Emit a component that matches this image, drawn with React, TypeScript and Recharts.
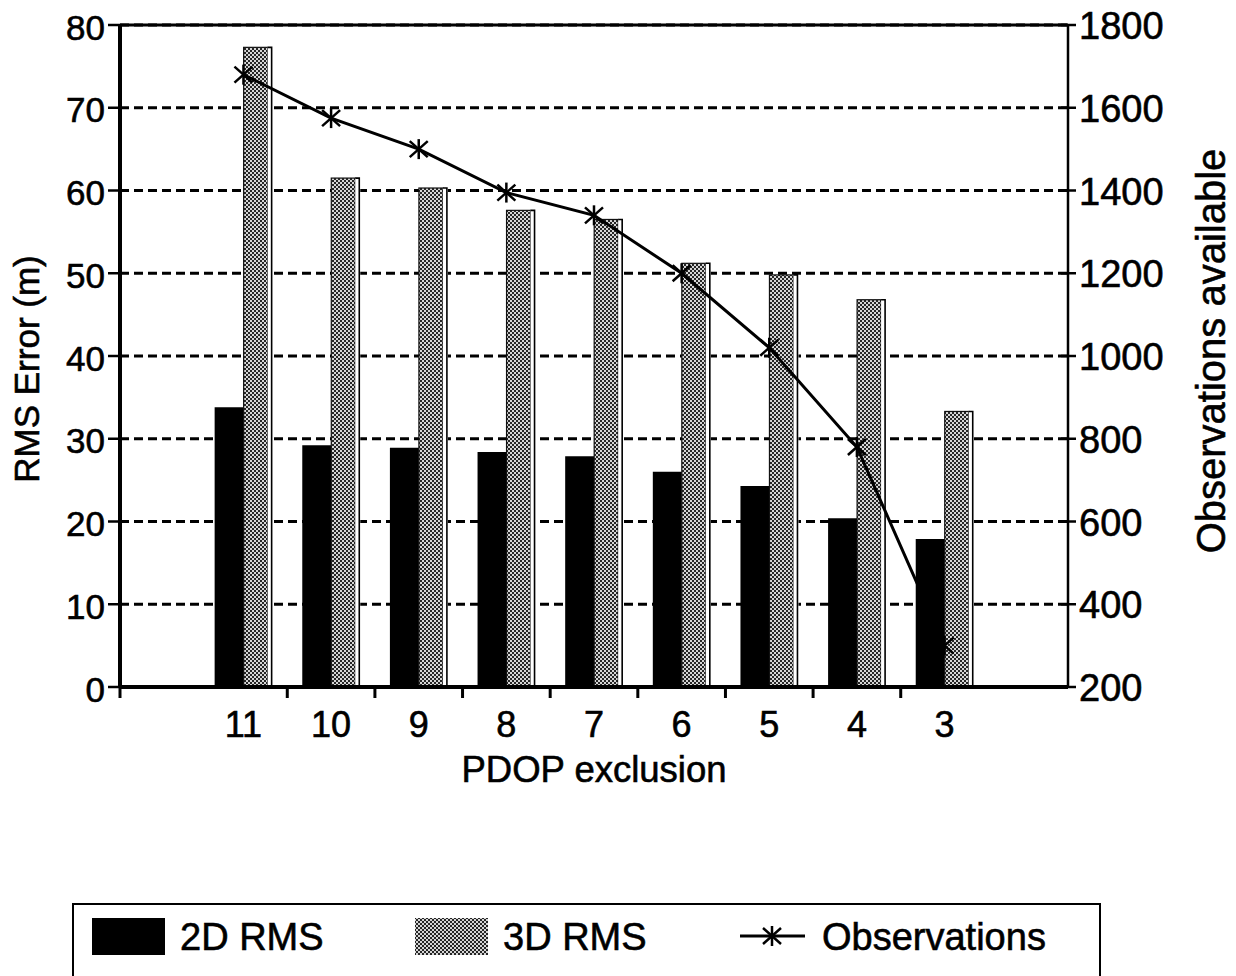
import React from 'react';
import {
  ComposedChart,
  Bar,
  Line,
  XAxis,
  YAxis,
  CartesianGrid,
  ReferenceLine,
  Legend,
  Label,
} from 'recharts';

// PDOP exclusion levels, with an empty slot at each end of the axis
const pdopLevels = ['', '11', '10', '9', '8', '7', '6', '5', '4', '3', ''];
const rms2d = [null, 33.8, 29.2, 28.9, 28.4, 27.9, 26.0, 24.3, 20.4, 17.9, null];
const rms3d = [null, 77.3, 61.5, 60.3, 57.6, 56.5, 51.2, 49.8, 46.8, 33.3, null];
const observations = [null, 1680, 1575, 1500, 1395, 1340, 1200, 1020, 780, 300, null];
const rmsTicks = [0, 10, 20, 30, 40, 50, 60, 70, 80];
const obsTicks = [200, 400, 600, 800, 1000, 1200, 1400, 1600, 1800];

const data = pdopLevels.map((pdop, i) => ({
  pdop,
  rms2d: rms2d[i],
  rms3d: rms3d[i],
  obs: observations[i],
}));

const FONT = '"Liberation Sans", Arial, Helvetica, sans-serif';
const W = 1236;
const H = 976;
const LEFT_W = 120;
const RIGHT_W = 168;
const TOP = 25;
const X_AXIS_H = 289;
const PLOT_LEFT = LEFT_W;
const PLOT_RIGHT = W - RIGHT_W;
const PLOT_BOTTOM = H - X_AXIS_H;
const BAND_PAD = 8;
const HALF_BAND = (PLOT_RIGHT - PLOT_LEFT + 2 * BAND_PAD) / pdopLevels.length / 2;

// slightly heavier text, like the original print
const ink = { fill: '#000', stroke: '#000', strokeWidth: 0.6, fontFamily: FONT };

function StippleDefs({ id }: { id: string }) {
  return (
    <defs>
      <pattern id={id} width={4} height={4} patternUnits="userSpaceOnUse">
        <rect width={4} height={4} fill="#d6d6d6" />
        <rect width={2} height={2} fill="#262626" />
        <rect x={2} y={2} width={2} height={2} fill="#262626" />
      </pattern>
    </defs>
  );
}

// stippled bar with the thin white side face on its right
function StippleBar({ x, y, width, height }: any) {
  if (!height || height <= 0) return null;
  const body = width - 5;
  return (
    <g>
      <rect x={x} y={y} width={body} height={height} fill="url(#stipple)" stroke="#111" strokeWidth={1.2} />
      <rect x={x + body} y={y} width={5} height={height} fill="#fff" />
      <path
        d={`M${x + body},${y} H${x + width - 1} V${y + height}`}
        fill="none"
        stroke="#000"
        strokeWidth={1.6}
      />
    </g>
  );
}

function StarDot({ cx, cy }: any) {
  if (cx == null || cy == null) return null;
  return (
    <g stroke="#000" strokeWidth={2.5}>
      <line x1={cx - 9} y1={cy - 8} x2={cx + 9} y2={cy + 8} />
      <line x1={cx - 9} y1={cy + 8} x2={cx + 9} y2={cy - 8} />
      <line x1={cx} y1={cy - 10} x2={cx} y2={cy + 10} />
    </g>
  );
}

function PdopTick({ x, payload, index }: any) {
  const edge = payload.coordinate - HALF_BAND;
  const showEdge = index >= 2 && index <= pdopLevels.length - 2;
  return (
    <g>
      {showEdge && (
        <line x1={edge} x2={edge} y1={PLOT_BOTTOM} y2={PLOT_BOTTOM + 11} stroke="#000" strokeWidth={3} />
      )}
      {index === 0 && (
        <line x1={PLOT_LEFT} x2={PLOT_LEFT} y1={PLOT_BOTTOM} y2={PLOT_BOTTOM + 11} stroke="#000" strokeWidth={3} />
      )}
      <text x={x} y={PLOT_BOTTOM + 37} textAnchor="middle" dominantBaseline="central" fontSize={36} {...ink}>
        {payload.value}
      </text>
    </g>
  );
}

function RmsTick({ y, payload }: any) {
  return (
    <text x={PLOT_LEFT - 15} y={y + 2} textAnchor="end" dominantBaseline="central" fontSize={35} {...ink}>
      {payload.value}
    </text>
  );
}

function ObsTick({ y, payload }: any) {
  return (
    <g>
      <line x1={PLOT_RIGHT - 7} x2={PLOT_RIGHT + 8} y1={y} y2={y} stroke="#000" strokeWidth={2.5} />
      <text x={PLOT_RIGHT + 11} y={y + 1} dominantBaseline="central" fontSize={38} {...ink}>
        {payload.value}
      </text>
    </g>
  );
}

function VerticalTitle({ viewBox, dx, dy, size, text }: any) {
  const cx = viewBox.x + dx;
  const cy = viewBox.y + viewBox.height / 2 + dy;
  return (
    <text
      x={cx}
      y={cy}
      transform={`rotate(-90 ${cx} ${cy})`}
      textAnchor="middle"
      dominantBaseline="central"
      fontSize={size}
      {...ink}
    >
      {text}
    </text>
  );
}

const legendSlots = [20, 343, 668];

function LegendBox({ payload }: any) {
  const items = payload || [];
  return (
    <svg width={1030} height={90} style={{ display: 'block' }}>
      <StippleDefs id="stipple-legend" />
      <rect x={1} y={1} width={1027} height={100} fill="#fff" stroke="#000" strokeWidth={2} />
      {items.map((item: any, i: number) => {
        const sx = legendSlots[i] ?? 20 + i * 320;
        let swatch;
        if (item.dataKey === 'obs') {
          swatch = (
            <g>
              <line x1={sx} x2={sx + 65} y1={33} y2={33} stroke="#000" strokeWidth={3} />
              <StarDot cx={sx + 32} cy={33} />
            </g>
          );
        } else {
          swatch = (
            <rect
              x={sx}
              y={15}
              width={73}
              height={37}
              fill={item.dataKey === 'rms3d' ? 'url(#stipple-legend)' : '#000'}
            />
          );
        }
        return (
          <g key={item.value}>
            {swatch}
            <text
              x={sx + (item.dataKey === 'obs' ? 82 : 88)}
              y={34}
              dominantBaseline="central"
              fontSize={38}
              {...ink}
            >
              {item.value}
            </text>
          </g>
        );
      })}
    </svg>
  );
}

export default function App() {
  return (
    <div
      style={{
        position: 'absolute',
        left: 0,
        top: 0,
        width: W,
        height: H,
        overflow: 'hidden',
        background: '#fff',
        fontFamily: FONT,
      }}
    >
      <ComposedChart
        width={W}
        height={H}
        data={data}
        margin={{ top: TOP, right: 0, bottom: 0, left: 0 }}
        barGap={0}
      >
        <StippleDefs id="stipple" />
        <CartesianGrid vertical={false} stroke="#000" strokeWidth={3} strokeDasharray="9 5" />
        <XAxis
          dataKey="pdop"
          height={X_AXIS_H}
          interval={0}
          padding={{ left: -BAND_PAD, right: -BAND_PAD }}
          tickLine={false}
          axisLine={{ stroke: '#000', strokeWidth: 4 }}
          tick={<PdopTick />}
        >
          <Label
            content={({ viewBox }: any) => (
              <text
                x={viewBox.x + viewBox.width / 2}
                y={viewBox.y + 82}
                textAnchor="middle"
                dominantBaseline="central"
                fontSize={36.5}
                {...ink}
              >
                PDOP exclusion
              </text>
            )}
          />
        </XAxis>
        <YAxis
          width={LEFT_W}
          domain={[0, 80]}
          ticks={rmsTicks}
          interval={0}
          tickSize={12}
          axisLine={{ stroke: '#000', strokeWidth: 4 }}
          tickLine={{ stroke: '#000', strokeWidth: 2.5 }}
          tick={<RmsTick />}
        >
          <Label
            content={({ viewBox }: any) => (
              <VerticalTitle viewBox={viewBox} dx={26} dy={13} size={35} text="RMS Error (m)" />
            )}
          />
        </YAxis>
        <YAxis
          yAxisId="right"
          orientation="right"
          width={RIGHT_W}
          domain={[200, 1800]}
          ticks={obsTicks}
          interval={0}
          tickLine={false}
          axisLine={{ stroke: '#000', strokeWidth: 2.5 }}
          tick={<ObsTick />}
        >
          <Label
            content={({ viewBox }: any) => (
              <VerticalTitle viewBox={viewBox} dx={143} dy={-5} size={40} text="Observations available" />
            )}
          />
        </YAxis>
        <ReferenceLine y={80} stroke="#000" strokeWidth={3} />
        <Bar dataKey="rms2d" name="2D RMS" fill="#000" barSize={29} isAnimationActive={false} />
        <Bar
          dataKey="rms3d"
          name="3D RMS"
          fill="url(#stipple)"
          barSize={29}
          shape={<StippleBar />}
          isAnimationActive={false}
        />
        <Line
          yAxisId="right"
          dataKey="obs"
          name="Observations"
          stroke="#000"
          strokeWidth={3}
          dot={<StarDot />}
          activeDot={false}
          isAnimationActive={false}
        />
        <Legend
          verticalAlign="middle"
          align="center"
          layout="horizontal"
          content={<LegendBox />}
          wrapperStyle={{ left: 72, top: 903, width: 1030, height: 90 }}
        />
      </ComposedChart>
    </div>
  );
}
